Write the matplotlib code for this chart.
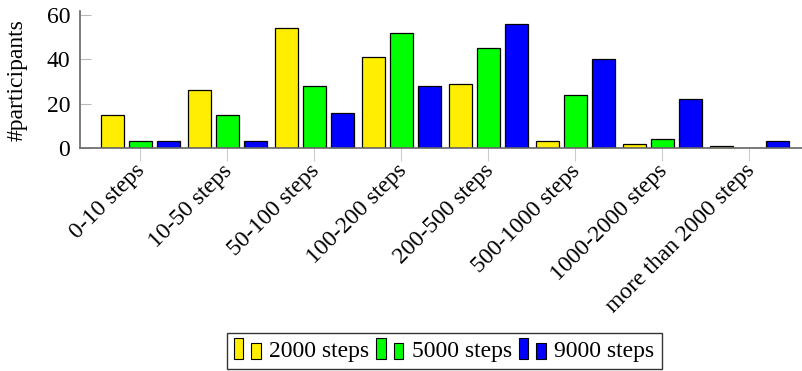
import numpy as np
import matplotlib
matplotlib.use('Agg')
import matplotlib.pyplot as plt
import matplotlib.transforms as mtrans
from matplotlib.patches import Rectangle

categorias = ['0-10 steps', '10-50 steps', '50-100 steps', '100-200 steps',
              '200-500 steps', '500-1000 steps', '1000-2000 steps',
              'more than 2000 steps']
pasos_2000 = [15, 26, 54, 41, 29, 3, 2, 1]
pasos_5000 = [3, 15, 28, 52, 45, 24, 4, 0]
pasos_9000 = [3, 3, 16, 28, 56, 40, 22, 3]
series = ['2000 steps', '5000 steps', '9000 steps']
colores = ['#FFEE00', '#00FF00', '#0000FF']

plt.rcParams['font.family'] = ['Liberation Serif', 'DejaVu Serif']


# pequeño manejador para imitar la leyenda de pgfplots (dos barritas)
class DosBarras:
    def legend_artist(self, legend, orig_handle, fontsize, handlebox):
        x0, y0 = handlebox.xdescent, handlebox.ydescent
        w, h = handlebox.width, handlebox.height
        c = orig_handle.get_facecolor()
        r1 = Rectangle((x0, y0 - 0.15 * h), w * 0.33, h * 1.3, fc=c, ec='black', lw=0.8,
                       transform=handlebox.get_transform())
        r2 = Rectangle((x0 + w * 0.62, y0 - 0.15 * h), w * 0.33, h * 1.0, fc=c, ec='black', lw=0.8,
                       transform=handlebox.get_transform())
        handlebox.add_artist(r1)
        handlebox.add_artist(r2)
        return r1


fig = plt.figure(figsize=(8.03, 3.71), dpi=100)
ax = fig.add_axes([0.0996, 0.601, 0.9004, 0.369])

x = np.arange(len(categorias))
ancho = 0.264
paso = 0.322
barras = []
for i, (vals, col) in enumerate(zip([pasos_2000, pasos_5000, pasos_9000], colores)):
    b = ax.bar(x + (i - 1) * paso, vals, width=ancho, color=col,
               edgecolor='black', linewidth=0.9, label=series[i], zorder=3)
    barras.append(b)

ax.set_xlim(-0.695, 7.615)
ax.set_ylim(0, 61.8)
ax.set_yticks([0, 20, 40, 60])
ax.set_xticks(x)
ax.set_xticklabels(categorias, rotation=45, ha='right', va='center_baseline',
                   rotation_mode='anchor', fontsize=17)
# desplazar un poco las etiquetas a la izquierda
desp = mtrans.ScaledTranslation(-8 / 100, 0, fig.dpi_scale_trans)
for lbl in ax.get_xticklabels():
    lbl.set_transform(lbl.get_transform() + desp)
ax.tick_params(axis='y', direction='in', length=8, color='#bbbbbb', labelsize=17, pad=7)
ax.tick_params(axis='x', direction='out', length=9, color='#cccccc', pad=4)
for s in ['top', 'right']:
    ax.spines[s].set_visible(False)
for s in ['left', 'bottom']:
    ax.spines[s].set_color('#666666')
    ax.spines[s].set_linewidth(1.2)
    ax.spines[s].set_zorder(4)

ax.set_ylabel('#participants', fontsize=17, labelpad=14)

handles = [b.patches[0] for b in barras]
fig.legend(handles, series, loc='lower center', bbox_to_anchor=(0.553, 0.0),
           ncol=3, fontsize=17, frameon=True, fancybox=False, edgecolor='black',
           handler_map={matplotlib.patches.Rectangle: DosBarras()},
           handlelength=1.2, handletextpad=0.3, columnspacing=0.3,
           borderpad=0.3, borderaxespad=0.1)

fig.savefig('out.png', dpi=100)
